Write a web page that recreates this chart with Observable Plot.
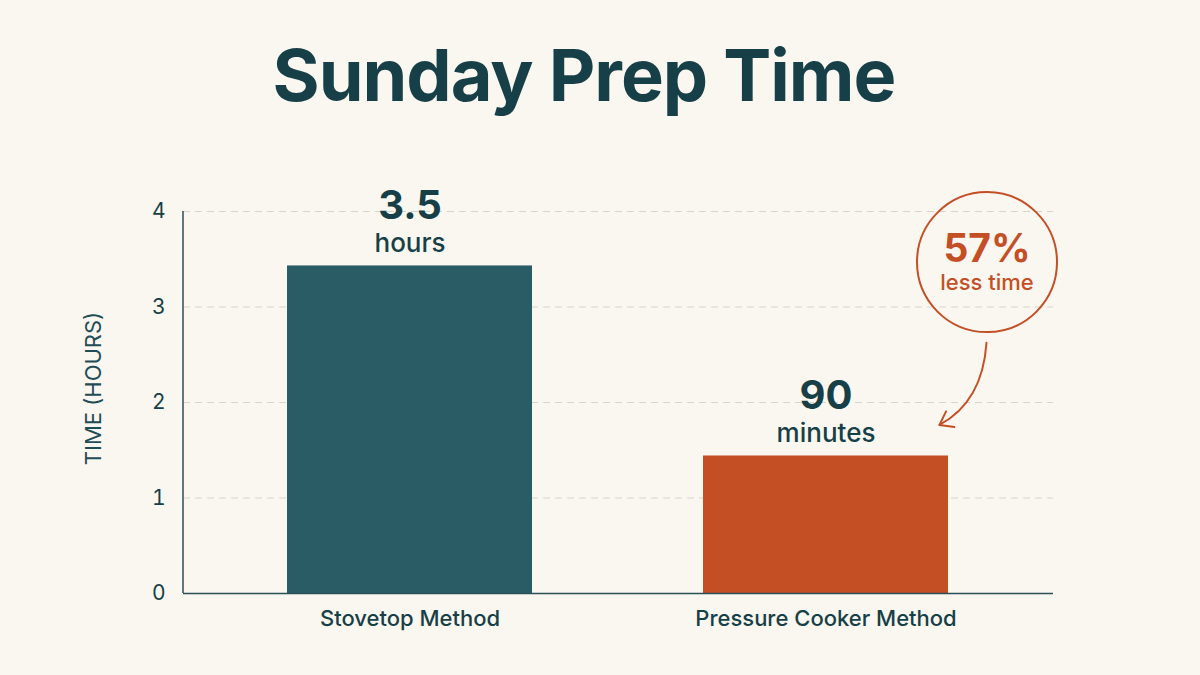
<!DOCTYPE html>
<html>
<head>
<meta charset="utf-8">
<script src="https://cdn.jsdelivr.net/npm/d3@7"></script>
<script src="https://cdn.jsdelivr.net/npm/@observablehq/plot@0.6"></script>
<style>
  html, body { margin: 0; padding: 0; background: #faf7f0; }
  #wrap { position: relative; width: 1200px; height: 675px; background: #faf7f0; overflow: hidden; font-family: Inter, "Noto Sans", sans-serif; }
  #title { position: absolute; left: 0; top: 39px; width: 1168px; text-align: center; font-size: 72px; line-height: 72px; font-weight: 700; color: #173f47; letter-spacing: -1px; white-space: nowrap; }
  #chart { position: absolute; left: 0; top: 130px; }
</style>
</head>
<body>
<div id="wrap">
  <div id="title">Sunday Prep Time</div>
  <div id="chart"></div>
</div>
<script>
// ---- data ----
const methods = ["Stovetop Method", "Pressure Cooker Method"];
const hours = [3.43, 1.44];
const valueLabels = ["3.5", "90"];
const unitLabels = ["hours", "minutes"];
const barColors = ["#2a5c66", "#c54f25"];
const yTicks = [0, 1, 2, 3, 4];
const yLabel = "TIME (HOURS)";
const calloutPct = "57%";
const calloutText = "less time";
const calloutLevel = 3.47;     // vertical position (hours) of callout centre
const arrowFrom = 2.62;        // hours
const arrowTo = 1.76;          // hours

const rows = methods.map((m, i) => ({method: m, hours: hours[i], value: valueLabels[i], unit: unitLabels[i], color: barColors[i]}));

const dark = "#173f47";
const orange = "#c54f25";
const font = "Inter, 'Noto Sans', sans-serif";

function leftAxisLine(index, scales, values, dims) {
  const g = d3.create("svg:g");
  g.append("line")
    .attr("x1", dims.marginLeft).attr("x2", dims.marginLeft)
    .attr("y1", scales.y(0)).attr("y2", scales.y(yTicks[yTicks.length - 1]))
    .attr("stroke", "#2a4f57").attr("stroke-width", 1.5);
  return g.node();
}

function calloutArrow(index, scales, values, dims) {
  const bw = scales.x.bandwidth ? scales.x.bandwidth() : 0;
  const cx = scales.x(methods[1]) + bw / 2;
  const x0 = cx + 161, y0 = scales.y(arrowFrom);
  const x1 = cx + 114, y1 = scales.y(arrowTo);
  const qx = cx + 157, qy = scales.y(2.0);
  const g = d3.create("svg:g").attr("fill", "none").attr("stroke", orange).attr("stroke-width", 2).attr("stroke-linecap", "round").attr("stroke-linejoin", "round");
  g.append("path").attr("d", `M${x0},${y0} Q${qx},${qy} ${x1},${y1}`);
  let dx = x1 - qx, dy = y1 - qy;
  const len = Math.hypot(dx, dy); dx /= len; dy /= len;
  const L = 15, a = Math.PI / 5;
  const bx = -dx, by = -dy;
  const p1 = [x1 + L * (bx * Math.cos(a) - by * Math.sin(a)), y1 + L * (bx * Math.sin(a) + by * Math.cos(a))];
  const p2 = [x1 + L * (bx * Math.cos(-a) - by * Math.sin(-a)), y1 + L * (bx * Math.sin(-a) + by * Math.cos(-a))];
  g.append("path").attr("d", `M${p1[0]},${p1[1]} L${x1},${y1} L${p2[0]},${p2[1]}`);
  return g.node();
}

const chart = Plot.plot({
  width: 1200,
  height: 545,
  marginLeft: 183,
  marginRight: 147,
  marginTop: 81,
  marginBottom: 82,
  style: {background: "transparent", fontFamily: font, color: dark, overflow: "visible"},
  x: {domain: methods, paddingInner: 0.41, paddingOuter: 0.25, label: null},
  y: {domain: [0, 4], ticks: yTicks, label: null},
  marks: [
    Plot.gridY(yTicks.filter(d => d > 0), {stroke: "#d8d4cb", strokeOpacity: 1, strokeDasharray: "7,5", strokeWidth: 1}),
    Plot.barY(rows, {x: "method", y: "hours", fill: "color"}),
    Plot.ruleY([0], {stroke: "#2a4f57", strokeWidth: 1.5}),
    leftAxisLine,
    Plot.axisY(yTicks, {tickSize: 0, tickPadding: 18, fontSize: 21, fill: dark, tickFormat: d3.format("d"), label: null}),
    Plot.axisX({tickSize: 0, tickPadding: 17, fontSize: 22, fontWeight: 500, fill: dark, label: null}),
    Plot.text([yLabel], {frameAnchor: "left", textAnchor: "middle", dx: -90, dy: -14, rotate: -90, text: d => d, fontSize: 22, fill: "#1f4d56", fontWeight: 400, style: "letter-spacing: 1.2px"}),
    Plot.text(rows, {x: "method", y: "hours", text: "value", dy: -47, lineAnchor: "bottom", fontSize: 40, fontWeight: 700, fill: dark}),
    Plot.text(rows, {x: "method", y: "hours", text: "unit", dy: -14, lineAnchor: "bottom", fontSize: 26, fontWeight: 500, fill: dark}),
    Plot.dot([methods[1]], {x: d => d, y: () => calloutLevel, dx: 161, r: 70, stroke: orange, strokeWidth: 2, fill: "none"}),
    Plot.text([calloutPct], {x: () => methods[1], y: () => calloutLevel, dx: 161, dy: 0, text: d => d, lineAnchor: "bottom", fontSize: 39, fontWeight: 700, fill: orange}),
    Plot.text([calloutText], {x: () => methods[1], y: () => calloutLevel, dx: 161, dy: 28, text: d => d, lineAnchor: "bottom", fontSize: 22, fontWeight: 500, fill: orange}),
    calloutArrow
  ]
});
document.getElementById("chart").appendChild(chart);
</script>
</body>
</html>
